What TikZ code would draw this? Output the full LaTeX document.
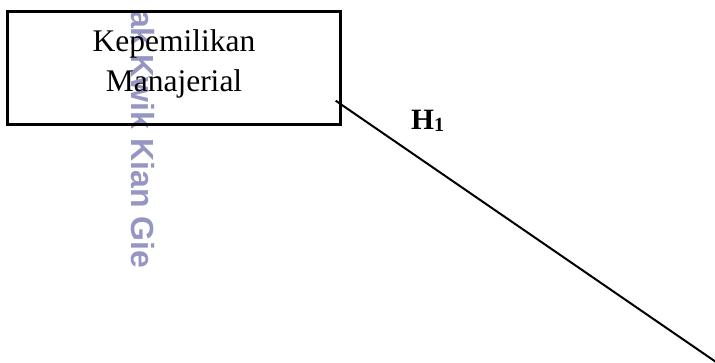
\documentclass[tikz,border=0pt]{standalone}
\usepackage{fontspec}
\setmainfont{Liberation Serif}
\newfontfamily\wmfont{Liberation Sans}
\definecolor{wmcolor}{RGB}{150,150,196}
\tikzset{
  varbox/.style={draw=black, line width=2.5pt, inner sep=0pt},
  boxtext/.style={anchor=base, inner sep=0pt, font=\fontsize{31.5}{40}\selectfont},
  hyplabel/.style={anchor=base west, inner sep=0pt, font=\bfseries\fontsize{29.5}{30}\selectfont},
  hypline/.style={draw=black, line width=2pt},
  watermark/.style={rotate=-90, anchor=base west, inner sep=0pt, text=wmcolor,
    font=\wmfont\bfseries\fontsize{32}{32}\selectfont}
}
\begin{document}
\begin{tikzpicture}[x=1pt, y=-1pt]
  \useasboundingbox (0,0) rectangle (715,362);
  \clip (0,0) rectangle (715,362);
  % faint vertical watermark behind the diagram
  \node[watermark] (wm) at (131.5,10) {ak Kwik Kian Gie};
  % variable box
  \node[varbox, minimum width=333pt, minimum height=113.2pt] (km) at (174,68.1) {};
  \node[boxtext] (kmA) at (174,51) {Kepemilikan};
  \node[boxtext] (kmB) at (174,91.5) {Manajerial};
  % hypothesis path leaving the box towards the lower right
  \coordinate (hs) at (335.7,100.7);
  \coordinate (he) at (716,362);
  \draw[hypline] (hs) -- (he);
  \node[hyplabel] (h1) at (411,129) {H\raisebox{-2.5pt}{\fontsize{20}{20}\selectfont 1}};
\end{tikzpicture}
\end{document}
